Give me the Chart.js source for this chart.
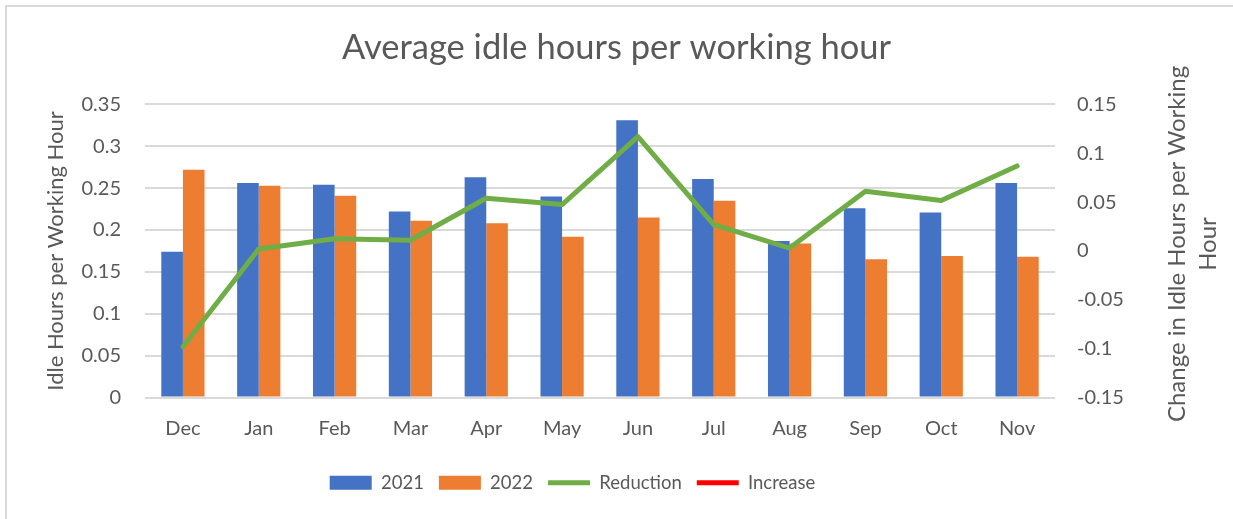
<!DOCTYPE html>
<html>
<head>
<meta charset="utf-8">
<script src="https://cdn.jsdelivr.net/npm/chart.js@4.4.1/dist/chart.umd.min.js"></script>
<style>
  html, body { margin: 0; padding: 0; background: #fff; }
  #wrap { position: relative; width: 1233px; height: 519px; overflow: hidden; }
  #frame { position: absolute; left: 5px; top: 5px; width: 1240px; height: 530px;
           border-left: 2px solid #d9d9d9; border-top: 2px solid #d9d9d9; box-sizing: border-box; }
  canvas { position: absolute; left: 0; top: 0; }
</style>
</head>
<body>
<div id="wrap">
  <div id="frame"></div>
  <canvas id="chart" width="1233" height="519"></canvas>
</div>
<script>
const MONTHS = ["Dec", "Jan", "Feb", "Mar", "Apr", "May", "Jun", "Jul", "Aug", "Sep", "Oct", "Nov"];
const IDLE_2021 = [0.174, 0.256, 0.254, 0.222, 0.263, 0.240, 0.331, 0.261, 0.187, 0.226, 0.221, 0.256];
const IDLE_2022 = [0.272, 0.253, 0.241, 0.211, 0.208, 0.192, 0.215, 0.235, 0.184, 0.165, 0.169, 0.168];
const REDUCTION = [-0.098, 0.002, 0.0125, 0.011, 0.054, 0.0475, 0.117, 0.027, 0.003, 0.061, 0.0516, 0.087];
const INCREASE = [null, null, null, null, null, null, null, null, null, null, null, null];
const LEFT_TICKS = [0, 0.05, 0.1, 0.15, 0.2, 0.25, 0.3, 0.35];
const RIGHT_TICKS = [-0.15, -0.1, -0.05, 0, 0.05, 0.1, 0.15];

const TEXT = "#595959";
const FONT = "Lato";
const fmt = v => String(+Number(v).toFixed(2));

// right axis title reads bottom-to-top in the original, so draw it by hand
const rightTitle = {
    id: "rightTitle",
    afterDraw(chart) {
        const ctx = chart.ctx;
        ctx.save();
        ctx.fillStyle = TEXT;
        ctx.font = "24px " + FONT;
        ctx.textAlign = "center";
        ctx.textBaseline = "middle";
        ctx.translate(1177, 244);
        ctx.rotate(-Math.PI / 2);
        ctx.fillText("Change in Idle Hours per Working", 0, 0);
        ctx.fillText("Hour", 0, 31);
        ctx.restore();
    },
};

// legend in the original sits left of centre
const legendShift = {
    id: "legendShift",
    afterLayout(chart) {
        const lg = chart.legend;
        lg.left -= 44;
        lg.right -= 44;
    },
};

new Chart(document.getElementById("chart"), {
    data: {
        labels: MONTHS,
        datasets: [
            { type: "bar", label: "2021", data: IDLE_2021, backgroundColor: "#4472C4", yAxisID: "y", order: 2,
              categoryPercentage: 0.57, barPercentage: 1.0 },
            { type: "bar", label: "2022", data: IDLE_2022, backgroundColor: "#ED7D31", yAxisID: "y", order: 2,
              categoryPercentage: 0.57, barPercentage: 1.0 },
            { type: "line", label: "Reduction", data: REDUCTION, borderColor: "#70AD47", backgroundColor: "#70AD47",
              borderWidth: 5, pointRadius: 0, yAxisID: "y1", order: 1, borderCapStyle: "round", borderJoinStyle: "round" },
            { type: "line", label: "Increase", data: INCREASE, borderColor: "#FF0000", backgroundColor: "#FF0000",
              borderWidth: 5, pointRadius: 0, yAxisID: "y1", order: 1, borderCapStyle: "round" },
        ],
    },
    options: {
        responsive: false,
        animation: false,
        layout: { padding: { left: 8, right: 8, top: 10, bottom: 17 } },
        plugins: {
            title: {
                display: true, text: "Average idle hours per working hour", color: TEXT,
                font: { family: FONT, size: 34.5, weight: "normal" },
                padding: { top: 17, bottom: 36 },
            },
            legend: {
                position: "bottom",
                labels: {
                    color: TEXT, font: { family: FONT, size: 18.5 },
                    usePointStyle: true, pointStyleWidth: 42, boxHeight: 14, padding: 15,
                    sort: (a, b) => a.datasetIndex - b.datasetIndex,
                    generateLabels(chart) {
                        const items = Chart.defaults.plugins.legend.labels.generateLabels(chart);
                        items.forEach(it => {
                            const ds = chart.data.datasets[it.datasetIndex];
                            it.pointStyle = ds.type === "line" ? "line" : "rect";
                            if (ds.type === "bar") it.lineWidth = 0;
                        });
                        return items;
                    },
                },
            },
            tooltip: { enabled: false },
        },
        scales: {
            x: {
                grid: { display: false },
                border: { display: false },
                ticks: { color: TEXT, font: { family: FONT, size: 20 }, padding: 11 },
                afterFit(s) { s.height = 61; },
            },
            y: {
                position: "left", min: 0, max: 0.35,
                afterBuildTicks(s) { s.ticks = LEFT_TICKS.map(v => ({ value: v })); },
                grid: { color: "#d9d9d9", lineWidth: 2, drawTicks: false },
                border: { display: false },
                ticks: { color: TEXT, font: { family: FONT, size: 20 }, padding: 24, callback: fmt },
                title: { display: true, text: "Idle Hours per Working Hour", color: TEXT,
                         font: { family: FONT, size: 22 }, padding: { top: 35, bottom: 0 } },
                afterFit(s) { s.width = 137; },
            },
            y1: {
                position: "right", min: -0.15, max: 0.15,
                afterBuildTicks(s) { s.ticks = RIGHT_TICKS.map(v => ({ value: v })); },
                grid: { drawOnChartArea: false, drawTicks: false },
                border: { display: false },
                ticks: { color: TEXT, font: { family: FONT, size: 20 }, padding: 22, callback: fmt },
                afterFit(s) { s.width = 170; },
            },
        },
    },
    plugins: [rightTitle, legendShift],
});
</script>
</body>
</html>
